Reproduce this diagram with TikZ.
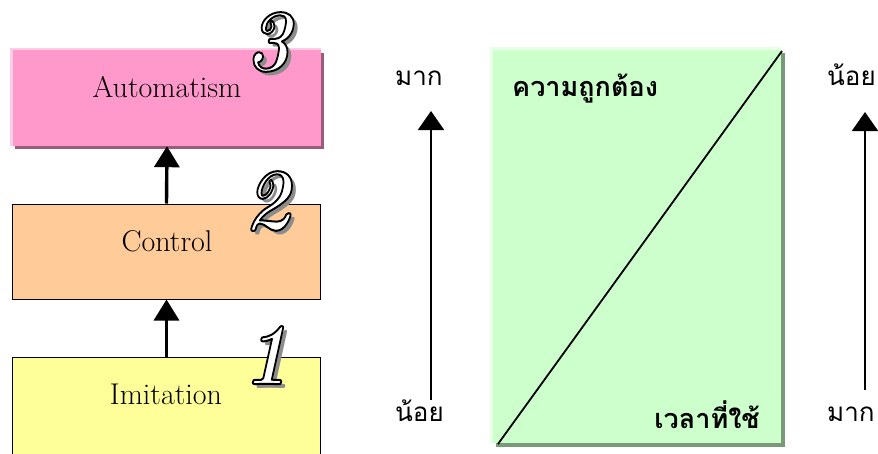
\documentclass[tikz,border=0pt]{standalone}
\usepackage{fontspec}
\usetikzlibrary{arrows.meta}
\newfontfamily\thai[Script=Thai]{Loma}
\definecolor{pinkm}{HTML}{FF99CC}
\definecolor{pinkl}{HTML}{FFCCE6}
\definecolor{pinkd}{HTML}{995C7A}
\definecolor{peach}{HTML}{FFCC99}
\definecolor{yel}{HTML}{FFFF99}
\definecolor{greenm}{HTML}{CCFFCC}
\definecolor{greenl}{HTML}{E6FFE6}
\definecolor{greend}{HTML}{7A997A}
\newcommand\outlnum[1]{\textcolor{white}{\special{pdf:literal direct 2 Tr 2 w 0 G 1 j}#1\special{pdf:literal direct 0 Tr 1 w}}}
\begin{document}
\begin{tikzpicture}[x=1pt,y=-1pt,
  box/.style={draw=black,line width=1pt,inner sep=0pt},
  flatbox/.style={draw=none,inner sep=0pt},
  lbl/.style={font=\fontsize{30}{32}\selectfont, anchor=base, inner sep=0pt},
  thl/.style={font=\thai\fontsize{26}{28}\selectfont, anchor=base west, inner sep=0pt},
  thb/.style={font=\thai\bfseries\fontsize{27}{29}\selectfont, inner sep=0pt},
  numstyle/.style={font=\bfseries\itshape\fontsize{88}{88}\selectfont, inner sep=0pt},
  bigarrow/.style={line width=3.4pt,-{Triangle[width=25pt,length=21pt]}},
  thinarrow/.style={line width=2pt,-{Triangle[width=26pt,length=19pt]}}
]
\useasboundingbox (0,0) rectangle (878,453);
\fill[white] (0,0) rectangle (878,453);

% Automatism box (3D look)
\fill[pinkd] (15,53) rectangle (324,149);
\fill[pinkl] (10,48) rectangle (321,146);
\node[flatbox,fill=pinkm,minimum width=308pt,minimum height=96pt] (auto) at (167,98) {};
\node[lbl] (tauto) at (167,97) {Automatism};

% Control box
\node[box,fill=peach,minimum width=308pt,minimum height=95pt] (ctrl) at (166.5,251.5) {};
\node[lbl] (tctrl) at (167,251) {Control};

% Imitation box
\node[box,fill=yel,minimum width=308pt,minimum height=103pt] (imit) at (166.5,408.5) {};
\node[lbl] (timit) at (166,404) {Imitation};

% arrows between boxes
\draw[bigarrow] (ctrl.north) -- (auto.south);
\draw[bigarrow] (imit.north) -- (ctrl.south);

% numbers (shadow, then outlined white numeral)
\node[numstyle,text=black!45] (n3s) at (272,46) {\scalebox{0.88}[1]{3}};
\node[numstyle] (n3) at (268,42) {\scalebox{0.88}[1]{\outlnum{3}}};
\node[numstyle,text=black!45] (n2s) at (271,205) {\scalebox{0.88}[1]{2}};
\node[numstyle] (n2) at (267,201) {\scalebox{0.88}[1]{\outlnum{2}}};
\node[numstyle,text=black!45] (n1s) at (270,359) {\scalebox{0.88}[1]{1}};
\node[numstyle] (n1) at (266,355) {\scalebox{0.88}[1]{\outlnum{1}}};

% green box
\fill[greend] (496,53) rectangle (785,447);
\fill[greenl] (490,47) rectangle (781,443);
\node[flatbox,fill=greenm,minimum width=288pt,minimum height=393pt] (gbox) at (637,246.5) {};
\coordinate (gbl) at (498,444);
\coordinate (gtr) at (782,51);
\draw[line width=1.8pt] (gbl) -- (gtr);
\node[thb,anchor=base west] (acc) at (512,96) {ความถูกต้อง};
\node[thb,anchor=base east] (tim) at (760,428) {เวลาที่ใช้};

% left scale
\coordinate (la0) at (431,400);
\coordinate (la1) at (431,111);
\draw[thinarrow] (la0) -- (la1);
\node[thl] (lmore) at (395,85) {มาก};
\node[thl] (lless) at (395,421) {น้อย};

% right scale
\coordinate (ra0) at (865,390);
\coordinate (ra1) at (865,112);
\draw[thinarrow] (ra0) -- (ra1);
\node[thl] (rless) at (827,85) {น้อย};
\node[thl] (rmore) at (827,421) {มาก};
\end{tikzpicture}
\end{document}
